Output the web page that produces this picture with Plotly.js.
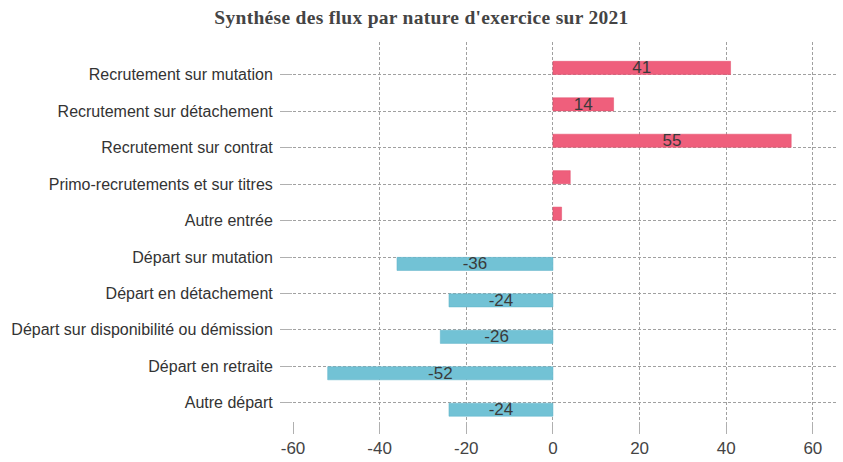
<!DOCTYPE html>
<html>
<head>
<meta charset="utf-8">
<script src="https://cdn.plot.ly/plotly-3.0.1.min.js"></script>
<style>html,body{margin:0;padding:0;background:#fff;}#chart{width:843px;height:462px;}
.gtitle{letter-spacing:0.3px;}</style>
</head>
<body>
<div id="chart"></div>
<script>
const categories = [
  "Recrutement sur mutation",
  "Recrutement sur détachement",
  "Recrutement sur contrat",
  "Primo-recrutements et sur titres",
  "Autre entrée",
  "Départ sur mutation",
  "Départ en détachement",
  "Départ sur disponibilité ou démission",
  "Départ en retraite",
  "Autre départ"
];
const entrees = [41, 14, 55, 4, 2, null, null, null, null, null];
const departs = [null, null, null, null, null, -36, -24, -26, -52, -24];
const xTickVals = [-60, -40, -20, 0, 20, 40, 60];

const labelOf = v => (v === null || Math.abs(v) < 10) ? "" : String(v);

const common = {
  type: "bar",
  orientation: "h",
  y: categories,
  width: 0.36,
  textposition: "inside",
  insidetextanchor: "middle",
  constraintext: "none",
  textangle: 0,
  textfont: {family: "Liberation Sans, Arial, sans-serif", size: 17, color: "#3a3a3a"},
  hoverinfo: "x+y",
  cliponaxis: false
};

const traces = [
  Object.assign({}, common, {
    x: entrees,
    offset: -0.37,
    text: entrees.map(labelOf),
    marker: {color: "#ef5f7c", line: {color: "#e24a68", width: 0.5}},
    name: "Entrées"
  }),
  Object.assign({}, common, {
    x: departs,
    offset: 0.01,
    text: departs.map(labelOf),
    marker: {color: "#72c2d5", line: {color: "#5fb3c8", width: 0.5}},
    name: "Départs"
  })
];

const layout = {
  width: 843, height: 462,
  paper_bgcolor: "#fff", plot_bgcolor: "#fff",
  showlegend: false,
  barmode: "overlay",
  margin: {l: 293, r: 5, t: 42, b: 41},
  title: {
    text: "<b>Synthése des flux par nature d'exercice sur 2021</b>",
    font: {family: "Liberation Serif, Times New Roman, serif", size: 19.5, color: "#444"},
    x: 0.5, xanchor: "center", y: 0.962, yanchor: "middle"
  },
  xaxis: {
    range: [-60, 65.8],
    tickvals: xTickVals,
    ticktext: xTickVals.map(String),
    showgrid: true, gridcolor: "#a0a0a0", griddash: "3px,2px", gridwidth: 1,
    zeroline: false, showline: false,
    ticks: "outside", ticklen: 12, tickcolor: "#b0b0b0",
    tickfont: {family: "Liberation Sans, Arial, sans-serif", size: 17, color: "#444"}
  },
  yaxis: {
    type: "category",
    range: [9.5, -0.9],
    showgrid: true, gridcolor: "#a0a0a0", griddash: "3px,2px", gridwidth: 1,
    zeroline: false, showline: false,
    ticks: "outside", ticklen: 12, tickcolor: "#b0b0b0",
    ticklabelstandoff: 4,
    tickfont: {family: "Liberation Sans, Arial, sans-serif", size: 16, color: "#333"}
  }
};

Plotly.newPlot("chart", traces, layout, {displayModeBar: false, staticPlot: true});
</script>
</body>
</html>
